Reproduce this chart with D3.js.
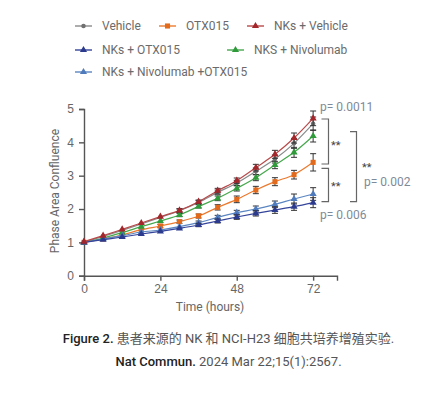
<!DOCTYPE html>
<html lang="zh-CN">
<head>
<meta charset="UTF-8">
<title>Phase Area Confluence</title>
<script src="https://cdn.jsdelivr.net/npm/d3@7"></script>
<style>
  body { margin: 0; background: #fff; }
  svg { font-family: Roboto, "Noto Sans CJK SC", sans-serif; }
  .axis path, .axis line { stroke: #555; stroke-width: 1.4; }
  .axis text { fill: #666; font-size: 12px; }
</style>
</head>
<body>
<div id="root"></div>
<script>
  // data
  let hours = [0, 6, 12, 18, 24, 30, 36, 42, 48, 54, 60, 66, 72]
  let seriesNames = ["Vehicle", "OTX015", "NKs + Vehicle", "NKs + OTX015", "NKS + Nivolumab", "NKs + Nivolumab +OTX015"]
  let vehicle   = [1.00, 1.18, 1.36, 1.55, 1.75, 1.95, 2.20, 2.50, 2.78, 3.13, 3.50, 3.97, 4.56]
  let otx015    = [1.00, 1.10, 1.22, 1.38, 1.49, 1.62, 1.79, 2.05, 2.29, 2.57, 2.82, 3.03, 3.40]
  let nkVehicle = [1.02, 1.20, 1.39, 1.58, 1.77, 1.96, 2.22, 2.55, 2.85, 3.24, 3.64, 4.13, 4.72]
  let nkOtx     = [1.00, 1.08, 1.16, 1.25, 1.33, 1.42, 1.52, 1.64, 1.76, 1.87, 1.97, 2.07, 2.19]
  let nkNivo    = [1.00, 1.13, 1.29, 1.47, 1.64, 1.82, 2.08, 2.32, 2.62, 2.94, 3.32, 3.70, 4.19]
  let nkNivoOtx = [1.00, 1.10, 1.20, 1.31, 1.37, 1.47, 1.59, 1.75, 1.89, 2.00, 2.14, 2.30, 2.45]
  // error bar half-heights
  let vehicleErr   = [0.02, 0.03, 0.03, 0.04, 0.04, 0.05, 0.05, 0.07, 0.08, 0.10, 0.12, 0.15, 0.20]
  let otx015Err    = [0.02, 0.03, 0.03, 0.04, 0.05, 0.05, 0.06, 0.08, 0.10, 0.11, 0.12, 0.13, 0.26]
  let nkVehicleErr = [0.02, 0.03, 0.03, 0.04, 0.04, 0.05, 0.05, 0.07, 0.08, 0.10, 0.12, 0.15, 0.22]
  let nkOtxErr     = [0.02, 0.02, 0.03, 0.03, 0.04, 0.04, 0.05, 0.06, 0.07, 0.08, 0.10, 0.11, 0.15]
  let nkNivoErr    = [0.02, 0.03, 0.03, 0.04, 0.04, 0.05, 0.05, 0.07, 0.08, 0.09, 0.11, 0.15, 0.18]
  let nkNivoOtxErr = [0.02, 0.02, 0.03, 0.03, 0.04, 0.04, 0.05, 0.06, 0.07, 0.09, 0.10, 0.15, 0.19]
  let xTicks = [0, 24, 48, 72]
  let yTicks = [0, 1, 2, 3, 4, 5]

  let series = [
    {name: seriesNames[0], values: vehicle,   err: vehicleErr,   line: "#8a8a8a", mark: "#707070", shape: "circle"},
    {name: seriesNames[1], values: otx015,    err: otx015Err,    line: "#ec7a2e", mark: "#e26a1c", shape: "square"},
    {name: seriesNames[4], values: nkNivo,    err: nkNivoErr,    line: "#45a84c", mark: "#2f9a3a", shape: "triangle"},
    {name: seriesNames[5], values: nkNivoOtx, err: nkNivoOtxErr, line: "#5b86c2", mark: "#4f7bbd", shape: "triangle"},
    {name: seriesNames[3], values: nkOtx,     err: nkOtxErr,     line: "#34449a", mark: "#2b3a8c", shape: "triangle"},
    {name: seriesNames[2], values: nkVehicle, err: nkVehicleErr, line: "#b9494a", mark: "#a3262a", shape: "triangle"}
  ]

  let width = 442, height = 393
  let svg = d3.select("#root").append("svg").attr("width", width).attr("height", height)

  let x = d3.scaleLinear().domain([0, 79.5]).range([84, 337])
  let y = d3.scaleLinear().domain([0, 5]).range([275.7, 109])

  svg.append("g").attr("class", "axis")
    .attr("transform", "translate(0," + y(0) + ")")
    .call(d3.axisBottom(x).tickValues(xTicks).tickSizeOuter(0).tickSize(5).tickPadding(4))
  svg.append("g").attr("class", "axis")
    .attr("transform", "translate(" + x(0) + ",0)")
    .call(d3.axisLeft(y).tickValues(yTicks).tickFormat(d3.format("d")).tickSizeOuter(0).tickSize(5).tickPadding(5))

  svg.append("text").attr("x", 210).attr("y", 311).attr("text-anchor", "middle")
    .attr("fill", "#666").style("font-size", "12px").text("Time (hours)")
  svg.append("text").attr("transform", "translate(59,191) rotate(-90)").attr("text-anchor", "middle")
    .attr("fill", "#666").style("font-size", "12px").text("Phase Area Confluence")

  function symbolFor(shape) {
    if (shape == "circle") return d3.symbol().type(d3.symbolCircle).size(16)()
    if (shape == "square") return d3.symbol().type(d3.symbolSquare).size(26)()
    return d3.symbol().type(d3.symbolTriangle).size(22)()
  }

  let line = d3.line().x((d, i) => x(hours[i])).y(d => y(d)).curve(d3.curveMonotoneX)

  series.forEach(s => {
    let g = svg.append("g")
    g.append("path").attr("d", line(s.values)).attr("fill", "none")
      .attr("stroke", s.line).attr("stroke-width", 1.2)
    s.values.forEach((v, i) => {
      let cx = x(hours[i])
      let e = s.err[i]
      if (e > 0.04) {
        g.append("line").attr("x1", cx).attr("x2", cx).attr("y1", y(v - e)).attr("y2", y(v + e))
          .attr("stroke", "#333").attr("stroke-width", 1)
        ;[v - e, v + e].forEach(t => {
          g.append("line").attr("x1", cx - 3).attr("x2", cx + 3).attr("y1", y(t)).attr("y2", y(t))
            .attr("stroke", "#333").attr("stroke-width", 1)
        })
      }
      g.append("path").attr("d", symbolFor(s.shape))
        .attr("transform", "translate(" + cx + "," + y(v) + ")").attr("fill", s.mark)
    })
  })

  // legend
  let legendItems = [
    {s: series[0], x: 75, y: 26}, {s: series[1], x: 159, y: 26}, {s: series[5], x: 247, y: 26},
    {s: series[4], x: 75, y: 50}, {s: series[2], x: 227, y: 50},
    {s: series[3], x: 75, y: 72}
  ]
  legendItems.forEach(it => {
    let g = svg.append("g").attr("transform", "translate(" + it.x + "," + it.y + ")")
    g.append("line").attr("x1", 0).attr("x2", 17).attr("stroke", it.s.line).attr("stroke-width", 1.4)
    g.append("path").attr("d", symbolFor(it.s.shape)).attr("transform", "translate(8.5,0)").attr("fill", it.s.mark)
    g.append("text").attr("x", 27).attr("y", 4.3).attr("fill", "#6b6b6b")
      .style("font-size", "12px").text(it.s.name)
  })

  // significance brackets
  let pColor = "#7f8a98"
  function bracket(xv, left, top, bottom) {
    svg.append("path")
      .attr("d", "M" + left + "," + y(top) + "H" + xv + "V" + y(bottom) + "H" + left)
      .attr("fill", "none").attr("stroke", "#666").attr("stroke-width", 1.2)
  }
  bracket(328.5, 321.5, 4.70, 3.35)
  bracket(328.5, 321.5, 3.22, 2.22)
  bracket(356.5, 350, 4.32, 2.22)
  function label(tx, ty, str, color, size) {
    svg.append("text").attr("x", tx).attr("y", ty).attr("fill", color)
      .style("font-size", size + "px").text(str)
  }
  label(331, 149, "**", "#444", 11)
  label(331, 190, "**", "#444", 11)
  label(362, 171, "**", "#444", 11)
  label(320, 111, "p= 0.0011", pColor, 12)
  label(320, 219, "p= 0.006", pColor, 12)
  label(364, 186, "p= 0.002", pColor, 12)

  // caption
  let cap1 = svg.append("text").attr("x", 228.5).attr("y", 343).attr("text-anchor", "middle")
    .style("font-size", "13px")
  cap1.append("tspan").attr("fill", "#222").attr("font-weight", 500).text("Figure 2.")
  cap1.append("tspan").attr("fill", "#555").text(" 患者来源的 NK 和 NCI-H23 细胞共培养增殖实验.")
  let cap2 = svg.append("text").attr("x", 228.5).attr("y", 366).attr("text-anchor", "middle")
    .style("font-size", "13px")
  cap2.append("tspan").attr("fill", "#222").attr("font-weight", 500).text("Nat Commun.")
  cap2.append("tspan").attr("fill", "#555").text(" 2024 Mar 22;15(1):2567.")
</script>
</body>
</html>
